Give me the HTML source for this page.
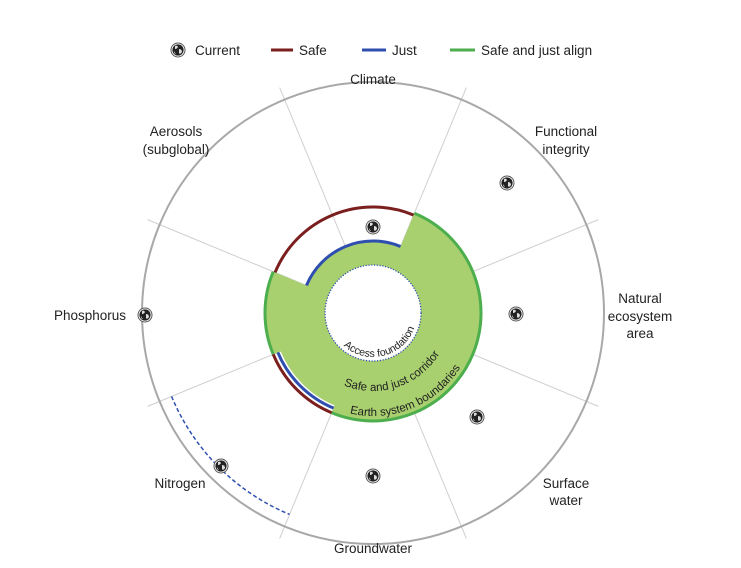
<!DOCTYPE html>
<html><head><meta charset="utf-8"><style>
html,body{margin:0;padding:0;background:#fff;}
svg{display:block;font-family:"Liberation Sans",Arial,sans-serif;}
</style></head><body>
<svg id="s" width="741" height="568" viewBox="0 0 741 568" xmlns="http://www.w3.org/2000/svg">
<defs>
<g id="globe"><circle r="7" fill="#fff" stroke="#555" stroke-width="1"/><circle r="5.6" fill="#222"/><path d="M-3,-4 q2,-1 3,1 q-1,2 -3,2 z M1,-1 q3,0 3,3 q-2,3 -3,1 z M-4,1 q1,2 2,3 q-2,0 -2,-3z" fill="#ddd"/></g>
</defs>
<g id="lines" stroke="#cfcfcf" stroke-width="1"></g>
<circle cx="373" cy="313" r="231" fill="none" stroke="#a8a8a8" stroke-width="2"/>
<path id="green" fill="#a8d06e"/>
<path id="gstroke" fill="none" stroke="#4cae4c" stroke-width="3"/>
<path id="gstroke2" fill="none" stroke="#4cae4c" stroke-width="3"/>
<path id="red1" fill="none" stroke="#7a1e1e" stroke-width="3"/>
<path id="red2" fill="none" stroke="#7a1e1e" stroke-width="3"/>
<path id="blue1" fill="none" stroke="#2f4fb0" stroke-width="3"/>
<path id="blue2" fill="none" stroke="#2f4fb0" stroke-width="3"/>
<path id="dash" fill="none" stroke="#2f4fb0" stroke-width="1.5" stroke-dasharray="4,2.5"/>
<circle cx="373" cy="313" r="48" fill="#fff" stroke="#2f4fb0" stroke-width="1.3" stroke-dasharray="1.2,1.6"/>
<path id="tp1" fill="none"/><path id="tp2" fill="none"/><path id="tp3" fill="none"/>
<text font-size="10.5" fill="#222"><textPath href="#tp1">Access foundation</textPath></text>
<text font-size="11.5" fill="#222"><textPath href="#tp2">Safe and just corridor</textPath></text>
<text font-size="11.5" fill="#222"><textPath href="#tp3">Earth system boundaries</textPath></text>
<use href="#globe" x="373" y="227"/><use href="#globe" x="507" y="183"/><use href="#globe" x="516" y="314"/>
<use href="#globe" x="477" y="417"/><use href="#globe" x="373" y="476"/><use href="#globe" x="221" y="466"/>
<use href="#globe" x="145" y="315"/><use href="#globe" x="178" y="50"/>
<g font-size="13.5" fill="#222" text-anchor="middle">
<text x="373" y="84">Climate</text>
<text x="176" y="136">Aerosols</text><text x="176" y="154">(subglobal)</text>
<text x="566" y="136">Functional</text><text x="566" y="154">integrity</text>
<text x="640" y="303">Natural</text><text x="640" y="321">ecosystem</text><text x="640" y="338">area</text>
<text x="90" y="320">Phosphorus</text>
<text x="180" y="488">Nitrogen</text>
<text x="566" y="488">Surface</text><text x="566" y="505">water</text>
<text x="373" y="553">Groundwater</text>
</g>
<g font-size="13.5" fill="#222">
<text x="195" y="55">Current</text>
<line x1="271" y1="50" x2="293" y2="50" stroke="#7a1e1e" stroke-width="3"/><text x="299" y="55">Safe</text>
<line x1="362" y1="50" x2="386" y2="50" stroke="#2f4fb0" stroke-width="3"/><text x="392" y="55">Just</text>
<line x1="450" y1="50" x2="475" y2="50" stroke="#4cae4c" stroke-width="3"/><text x="481" y="55">Safe and just align</text>
</g>
</svg>
<script>
var cx=373,cy=313;
function P(r,d){var a=d*Math.PI/180;return (cx+r*Math.cos(a)).toFixed(2)+","+(cy+r*Math.sin(a)).toFixed(2);}
function arc(r,a1,a2){var sw=a2>a1?1:0,lg=Math.abs(a2-a1)>180?1:0;return "M"+P(r,a1)+" A"+r+","+r+" 0 "+lg+","+sw+" "+P(r,a2);}
function arcC(r,a1,a2){var sw=a2>a1?1:0,lg=Math.abs(a2-a1)>180?1:0;return " A"+r+","+r+" 0 "+lg+","+sw+" "+P(r,a2);}
var L="";for(var k=0;k<8;k++){var d=22.5+45*k;L+='<line x1="'+P(55,d).split(",")[0]+'" y1="'+P(55,d).split(",")[1]+'" x2="'+P(244,d).split(",")[0]+'" y2="'+P(244,d).split(",")[1]+'"/>';}
document.getElementById("lines").innerHTML=L;
var g="M"+P(72,-157.5)+arcC(72,-157.5,-67.5)+" L"+P(108,-67.5)+arcC(108,-67.5,112.5)+" L"+P(100,112.5)+arcC(100,112.5,157.5)+" L"+P(108,157.5)+arcC(108,157.5,202.5)+" Z";
document.getElementById("green").setAttribute("d",g);
document.getElementById("gstroke").setAttribute("d",arc(108,-67.5,112.5));
document.getElementById("gstroke2").setAttribute("d",arc(108,157.5,202.5));
document.getElementById("red1").setAttribute("d",arc(106,-157.5,-67.5));
document.getElementById("red2").setAttribute("d",arc(108,112.5,157.5));
document.getElementById("blue1").setAttribute("d",arc(72,-157.5,-67.5));
document.getElementById("blue2").setAttribute("d",arc(103,112.5,157.5));
document.getElementById("dash").setAttribute("d",arc(218,157.5,112.5));
document.getElementById("tp1").setAttribute("d",arc(44,132,0));
document.getElementById("tp2").setAttribute("d",arc(78,112,20));
document.getElementById("tp3").setAttribute("d",arc(103,103,20));
</script>
</body></html>
